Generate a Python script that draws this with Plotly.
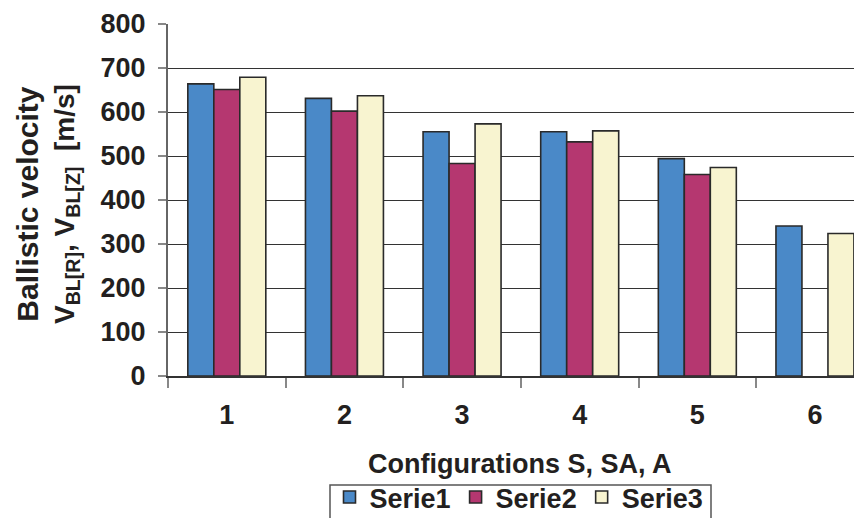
import plotly.graph_objects as go

categories = ["1", "2", "3", "4", "5", "6"]
serie1 = [664, 631, 555, 555, 494, 341]
serie2 = [651, 602, 483, 532, 458, None]
serie3 = [679, 637, 573, 557, 474, 324]
series_names = ["Serie1", "Serie2", "Serie3"]
colors = ["#4A89C8", "#B53770", "#F8F4D0"]
y_ticks = [0, 100, 200, 300, 400, 500, 600, 700, 800]

FONT = "Liberation Sans, Arial, sans-serif"

# page body adds an 8px offset; figure-coordinates compensate for it
L, T, PW, PH = 160, 16, 694, 352
W, H = 862, 518


def px_x(x):
    return (x - 8 - L) / PW


def px_y(y):
    return (T + PH - (y - 8)) / PH


fig = go.Figure()
for name, vals, col in zip(series_names, [serie1, serie2, serie3], colors):
    fig.add_trace(go.Bar(
        x=categories, y=vals, name=name,
        marker=dict(color=col, line=dict(color="#2a2a2a", width=1.6)),
    ))

fig.update_layout(
    width=W, height=H,
    margin=dict(l=L, r=W - L - PW, t=T, b=H - T - PH, autoexpand=False),
    paper_bgcolor="white", plot_bgcolor="white",
    barmode="group", bargap=0.337, bargroupgap=0,
    font=dict(family=FONT, size=27, color="#231f20"),
    showlegend=True,
    legend=dict(
        orientation="h", x=px_x(519), xanchor="center", y=px_y(473), yanchor="top",
        borderwidth=0, bgcolor="rgba(0,0,0,0)",
        font=dict(family=FONT, size=27, color="#231f20", weight="bold"),
        itemwidth=30, tracegroupgap=0,
    ),
)

fig.update_xaxes(
    type="category", range=[-0.5, 5.4],
    showgrid=False, showline=True, linecolor="#333333", linewidth=1.5,
    ticks="outside", tickson="boundaries", ticklen=10, tickcolor="#888888", tickwidth=1.5,
    tickfont=dict(family=FONT, size=27, color="#231f20", weight="bold"),
    ticklabelstandoff=14,
)
fig.update_yaxes(
    range=[0, 800], tickvals=y_ticks,
    showgrid=True, gridcolor="#333333", gridwidth=1.4,
    showline=True, linecolor="#666666", linewidth=2,
    ticks="outside", ticklen=8, tickcolor="#888888", tickwidth=1.5,
    tickfont=dict(family=FONT, size=27, color="#231f20", weight="bold"),
    ticklabelstandoff=7, zeroline=False,
)

# legend frame (cut by the bottom edge as in the reference)
fig.add_shape(
    type="rect", xref="paper", yref="paper",
    x0=px_x(330), x1=px_x(711), y0=px_y(485), y1=px_y(540),
    line=dict(color="#555555", width=1.5), fillcolor="rgba(0,0,0,0)", layer="below",
)

# Axis titles
fig.add_annotation(
    text="<b>Configurations S, SA, A</b>", xref="paper", yref="paper",
    x=px_x(520), y=px_y(464), xanchor="center", yanchor="middle",
    showarrow=False, font=dict(family=FONT, size=27, color="#231f20"),
)
fig.add_annotation(
    text=("<b><span style='font-size:30px'>Ballistic velocity</span></b><br>"
          "<b>V<sub>BL[R]</sub>, V<sub>BL[Z]</sub>  [m/s]</b>"),
    xref="paper", yref="paper", x=px_x(47), y=px_y(204),
    xanchor="center", yanchor="middle", textangle=-90,
    showarrow=False, font=dict(family=FONT, size=28, color="#231f20"),
)

fig.write_html("out.html")
